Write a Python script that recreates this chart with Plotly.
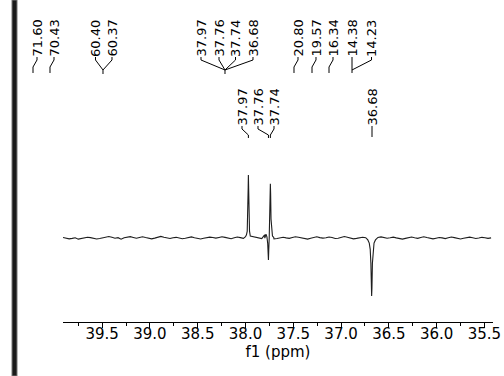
import numpy as np
import plotly.graph_objects as go

# ---- spectrum data (f1 in ppm, intensity in arbitrary units) ----
# baseline noise sampled on a regular ppm grid
base_start = 39.91
base_step = 0.032
base_noise = [
    0.8, 0.2, -1.4, -0.6, 0.4, -1.8, -0.9, 0.3, 1.2, 0.6,
    -0.4, -1.6, -0.8, 0.2, 1.0, 2.4, 1.1, -0.3, 0.6, -1.9,
    0.4, 1.6, 2.2, 0.9, -0.4, 0.8, 1.9, 0.7, -0.6, -1.4,
    -0.2, 1.3, 2.6, 1.2, 0.3, -0.8, 0.5, 1.1, 0.0, -1.2,
    -0.5, 0.7, 1.8, 0.4, -0.9, -1.6, -0.4, 0.6, 1.4, 0.8,
    -0.2, 0.9, 2.1, 1.0, -0.1, -1.1, 0.3, 1.5, 0.6, -0.5,
    0.2, 1.7, 3.0, 1.3, 0.1, -1.0, -0.3, 0.9, 0.4, -1.5,
    -0.7, 0.5, 1.2, 0.2, -0.6, 0.8, 2.0, 1.1, 0.2, -0.9,
    -1.7, -0.4, 0.7, 1.9, 0.6, -0.2, 0.5, 1.6, 0.7, -0.8,
    -0.3, 1.0, 2.3, 1.2, 0.0, -1.3, -0.6, 0.4, 1.3, 0.5,
    -0.7, -1.5, -0.2, 0.9, 1.8, 0.8, -0.4, 0.3, 1.4, 0.2,
    -1.1, -1.8, -0.6, 0.6, 1.5, 0.4, -0.5, 0.9, 2.0, 0.7,
    -0.6, -1.4, -0.3, 0.8, 0.2, -0.9, 0.4, 1.6, 0.6, -0.8,
    -1.6, -0.5, 0.7, 1.4, 0.3, -0.7, -0.1, 1.1, 0.5, -0.6,
    0.2,
]

# peak regions, listed point by point
peak_ppm = [
    # 37.97 (positive)
    38.000, 37.990, 37.982, 37.976, 37.972, 37.970, 37.968, 37.964, 37.958, 37.950,
    # 37.76 (negative) / 37.74 (positive)
    37.800, 37.786, 37.776, 37.768, 37.763, 37.760, 37.757, 37.752, 37.747, 37.743,
    37.740, 37.737, 37.733, 37.726, 37.718, 37.705,
    # 36.68 (negative)
    36.720, 36.705, 36.695, 36.688, 36.683, 36.680, 36.677, 36.672, 36.665, 36.655, 36.640,
]
peak_int = [
    2.0, 5.0, 11.0, 34.0, 80.0, 100.0, 80.0, 34.0, 11.0, 3.0,
    5.0, 6.0, 2.0, -8.0, -25.0, -35.0, -20.0, 0.0, 30.0, 70.0,
    86.0, 70.0, 30.0, 9.0, 3.0, 1.0,
    -3.0, -8.0, -18.0, -40.0, -80.0, -92.0, -80.0, -40.0, -18.0, -8.0, -3.0,
]
peak_centers = [37.97, 37.75, 36.68]

# peak picking labels
top_labels = ["71.60", "70.43", "60.40", "60.37", "37.97", "37.76", "37.74",
              "36.68", "20.80", "19.57", "16.34", "14.38", "14.23"]
local_labels = ["37.97", "37.76", "37.74", "36.68"]
local_ppm = [37.97, 37.76, 37.74, 36.68]

# ---- assemble the trace ----
grid = [base_start - i * base_step for i in range(len(base_noise))]
pts = [(p, v) for p, v in zip(grid, base_noise)
       if all(abs(p - c) > 0.045 for c in peak_centers)]
pts += list(zip(peak_ppm, peak_int))
pts.sort(key=lambda t: -t[0])
ppm = [p for p, _ in pts]
inten = [v for _, v in pts]

# ---- page geometry (pixels) ----
W, H = 504, 376
L, R, T, B = 63, 11, 0, 54
PW, PH = W - L - R, H - T - B


def px(xp):
    return (xp - L) / PW


def py(yp):
    return (H - B - yp) / PH


fig = go.Figure()
fig.add_trace(go.Scatter(x=ppm, y=inten, mode="lines",
                         line=dict(color="#1e1e1e", width=1.1),
                         hoverinfo="skip", showlegend=False))

annotations = []
shapes = []
lab_font = dict(family="DejaVu Sans", size=13, color="black")

# upper row of labels with their leader lines
top_x = [37, 54, 95.5, 112, 201, 219, 235.5, 253, 298, 316, 333, 352, 371.5]
top_bottom = 59
for t, x in zip(top_labels, top_x):
    annotations.append(dict(text=t, x=px(x), y=py(top_bottom), xref="paper",
                            yref="paper", xanchor="center", yanchor="bottom",
                            textangle=-90, showarrow=False, font=lab_font))

top_leaders = [
    [(37, 57), (37, 60), (33, 67), (33, 73)],
    [(54, 57), (54, 60), (50, 67), (50, 73)],
    [(95.5, 57), (95.5, 60), (103, 70), (103, 74)],
    [(112, 57), (112, 60), (103, 70)],
    [(201, 57), (201, 60), (225, 70), (225, 74)],
    [(219, 57), (219, 60), (225, 70)],
    [(235.5, 57), (235.5, 60), (225, 70)],
    [(253, 57), (253, 60), (225, 70)],
    [(298, 57), (298, 60), (294, 67), (294, 73)],
    [(316, 57), (316, 60), (312, 67), (312, 73)],
    [(333, 57), (333, 60), (329, 67), (329, 73)],
    [(352, 57), (352, 73)],
    [(371.5, 57), (371.5, 60), (352, 70)],
]

# lower row, pointing at the peaks in this window
low_x = [242, 258, 274, 372]
low_bottom = 128
for t, x in zip(local_labels, low_x):
    annotations.append(dict(text=t, x=px(x), y=py(low_bottom), xref="paper",
                            yref="paper", xanchor="center", yanchor="bottom",
                            textangle=-90, showarrow=False, font=lab_font))

x0_ppm, x1_ppm = 39.91, 35.41


def ppm_px(p):
    return L + (x0_ppm - p) / (x0_ppm - x1_ppm) * PW


low_leaders = []
for x, p in zip(low_x, local_ppm):
    tx = ppm_px(p)
    if abs(tx - x) < 2:
        low_leaders.append([(x, 126), (x, 137)])
    else:
        low_leaders.append([(x, 126), (x, 129), (tx, 135), (tx, 138)])


def path_of(seq):
    d = "M %f,%f" % (px(seq[0][0]), py(seq[0][1]))
    for a, b in seq[1:]:
        d += " L %f,%f" % (px(a), py(b))
    return d


for seq in top_leaders + low_leaders:
    shapes.append(dict(type="path", path=path_of(seq), xref="paper",
                       yref="paper", line=dict(color="black", width=1)))

# vertical bar at the left edge of the page
shapes.append(dict(type="rect", x0=px(12), x1=px(17), y0=py(0), y1=py(H),
                   xref="paper", yref="paper", fillcolor="#1a1a1a",
                   line=dict(color="#777777", width=1)))

fig.update_layout(
    width=W, height=H,
    margin=dict(l=L, r=R, t=T, b=B),
    paper_bgcolor="white", plot_bgcolor="white",
    annotations=annotations, shapes=shapes,
    font=dict(family="DejaVu Sans", color="black"),
)
fig.update_xaxes(
    range=[x0_ppm, x1_ppm], showgrid=False, zeroline=False,
    showline=True, linecolor="black", linewidth=1,
    ticks="outside", ticklen=5, tickwidth=1, tickcolor="black",
    tick0=35.5, dtick=0.5, tickformat=".1f", ticklabelstandoff=-7,
    minor=dict(ticks="outside", dtick=0.25, tick0=35.5, ticklen=3,
               tickcolor="black", showgrid=False),
    tickfont=dict(family="DejaVu Sans", size=15, color="black"),
    title=dict(text="f1 (ppm)", standoff=0,
               font=dict(family="DejaVu Sans", size=15, color="black")),
)
fig.update_yaxes(visible=False, range=[-133.3, 377.8])

fig.write_html("out.html")
